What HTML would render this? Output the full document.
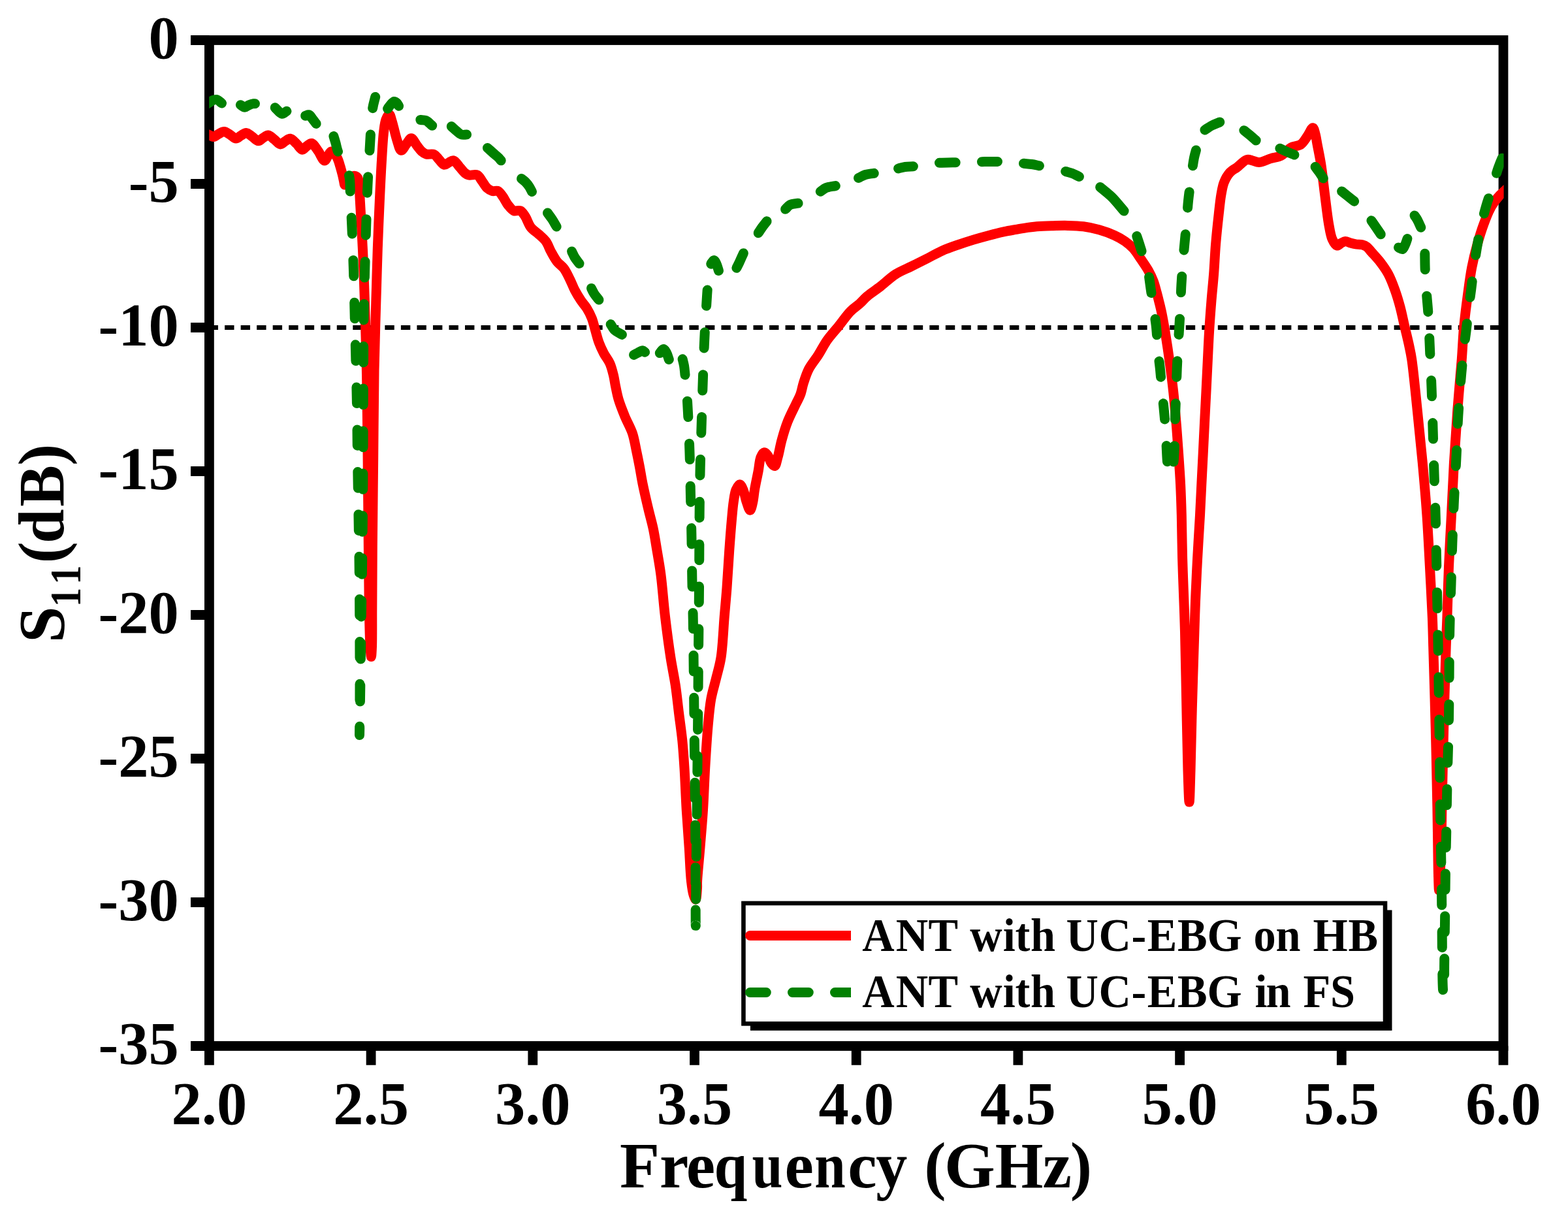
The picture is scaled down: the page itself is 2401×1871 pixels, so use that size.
<!DOCTYPE html>
<html><head><meta charset="utf-8"><title>S11 plot</title>
<style>html,body{margin:0;padding:0;background:#fff;}svg{display:block;}</style></head><body>
<svg xmlns="http://www.w3.org/2000/svg" width="2401" height="1871" viewBox="0 0 2401 1871">
<defs><clipPath id="pc"><rect x="320.2" y="0" width="1982.4" height="1871"/></clipPath><clipPath id="lc"><rect x="1140" y="1380" width="163" height="200"/></clipPath></defs>
<rect x="0" y="0" width="2401" height="1871" fill="#fff"/>
<path d="M319.57,501.5 H2302" stroke="#000" stroke-width="7" stroke-dasharray="14.4 10.128" fill="none"/>
<rect x="320.4" y="61.5" width="1981.6" height="1540.0" fill="none" stroke="#000" stroke-width="14.8" stroke-linejoin="miter"/>
<path d="M292,61.5 H320.4 M292,281.5 H320.4 M292,501.5 H320.4 M292,721.5 H320.4 M292,941.5 H320.4 M292,1161.5 H320.4 M292,1381.5 H320.4 M292,1601.5 H320.4 M320.40,1601.5 V1630.8 M568.10,1601.5 V1630.8 M815.80,1601.5 V1630.8 M1063.50,1601.5 V1630.8 M1311.20,1601.5 V1630.8 M1558.90,1601.5 V1630.8 M1806.60,1601.5 V1630.8 M2054.30,1601.5 V1630.8 M2302.00,1601.5 V1630.8" stroke="#000" stroke-width="14.8" fill="none"/>
<g clip-path="url(#pc)"><path d="M314.00,204.00 C316.00,204.80 317.93,205.53 320.00,206.40 C322.25,207.35 324.62,209.61 327.00,209.50 C329.61,209.38 332.28,206.34 335.00,205.00 C337.68,203.68 340.44,201.40 343.20,201.50 C346.10,201.60 349.07,204.30 352.00,206.00 C355.11,207.81 358.33,212.04 361.30,212.10 C363.97,212.16 366.39,208.94 369.00,207.50 C371.59,206.07 374.20,203.40 376.90,203.50 C379.86,203.61 382.96,207.01 386.00,209.00 C389.20,211.09 392.59,215.74 395.60,215.80 C398.21,215.85 400.47,212.46 403.00,211.00 C405.50,209.56 408.07,206.92 410.70,207.10 C413.71,207.30 416.94,211.23 420.00,213.50 C423.14,215.83 426.29,220.74 429.30,220.90 C431.94,221.04 434.42,217.46 437.00,216.00 C439.46,214.61 441.86,212.03 444.40,212.30 C447.49,212.63 450.93,217.22 454.00,220.00 C457.14,222.84 460.12,229.04 463.00,229.20 C465.41,229.34 467.59,225.16 470.00,223.50 C472.30,221.92 474.71,218.99 477.10,219.40 C480.36,219.96 483.81,226.78 487.00,231.00 C490.47,235.59 494.21,245.96 497.00,246.00 C498.93,246.03 500.33,241.33 502.00,239.00 C503.67,236.67 505.14,232.39 507.00,232.00 C508.53,231.68 510.49,233.52 512.00,235.00 C513.92,236.89 515.57,239.97 517.00,243.00 C518.65,246.51 519.77,250.90 521.00,255.00 C522.27,259.23 523.53,264.05 524.50,268.00 C525.30,271.27 525.86,274.31 526.50,277.00 C527.02,279.21 527.15,282.85 528.00,283.00 C528.92,283.16 530.54,278.96 532.00,277.00 C533.52,274.96 534.94,272.25 537.00,271.00 C538.97,269.81 542.09,269.00 544.00,269.50 C545.65,269.93 547.02,271.25 548.00,273.00 C549.48,275.65 549.48,280.36 550.00,285.00 C550.71,291.31 550.75,297.75 551.30,307.50 C552.32,325.59 554.40,359.20 555.60,385.00 C556.80,410.70 557.60,434.28 558.50,462.00 C559.56,494.51 560.67,532.10 561.40,568.00 C562.15,605.06 562.45,640.36 562.90,681.00 C563.43,728.59 563.86,790.36 564.30,836.00 C564.65,872.10 564.74,904.94 565.30,933.00 C565.73,954.51 566.22,976.98 567.00,990.00 C567.41,996.80 567.98,1005.50 568.40,1005.50 C568.82,1005.50 569.24,996.80 569.50,990.00 C570.00,976.98 569.69,954.51 569.80,933.00 C569.95,904.94 570.03,871.06 570.30,836.00 C570.62,794.49 571.25,745.00 571.70,700.00 C572.15,655.67 572.33,605.82 573.00,568.00 C573.50,539.49 574.26,516.29 574.90,493.00 C575.46,472.70 576.03,454.92 576.60,436.00 C577.16,417.25 577.59,399.84 578.30,380.00 C579.11,357.50 580.24,331.00 581.30,308.00 C582.28,286.82 583.25,265.78 584.40,247.00 C585.38,230.86 586.13,213.79 587.60,202.00 C588.56,194.29 589.13,187.85 591.00,183.00 C592.31,179.61 594.54,174.87 596.00,175.00 C597.56,175.14 598.88,181.63 600.00,185.00 C601.10,188.30 601.64,191.07 602.70,195.00 C604.21,200.62 606.09,209.28 608.20,215.50 C610.03,220.90 611.77,229.92 614.30,230.30 C616.49,230.63 619.43,224.09 622.00,221.00 C624.56,217.92 627.07,211.76 629.70,211.80 C632.56,211.84 635.66,219.49 638.50,223.00 C641.08,226.18 643.37,229.75 646.00,232.00 C648.15,233.83 650.02,235.20 652.70,236.00 C656.04,237.00 661.52,235.02 664.80,236.50 C667.84,237.87 669.51,241.45 672.00,244.00 C674.64,246.71 677.42,251.82 680.20,252.30 C682.44,252.68 684.66,250.06 687.00,249.00 C689.43,247.89 692.03,245.28 694.50,245.80 C697.72,246.48 700.99,252.69 704.00,256.00 C706.80,259.08 709.39,262.94 712.00,265.00 C713.90,266.50 715.25,267.41 717.60,268.00 C720.99,268.85 727.35,266.34 730.80,268.00 C734.03,269.55 735.57,273.82 738.00,277.00 C740.64,280.45 743.04,285.34 746.00,288.00 C748.41,290.17 751.02,291.75 753.80,292.50 C756.55,293.24 760.02,291.33 762.60,292.50 C765.52,293.83 767.61,297.76 770.00,301.00 C772.78,304.78 775.02,310.25 778.00,314.00 C780.68,317.37 783.47,321.33 786.80,322.70 C789.78,323.92 793.88,321.43 796.70,322.70 C799.67,324.05 801.64,327.56 804.00,331.00 C807.13,335.57 809.22,343.51 813.00,348.30 C816.45,352.68 821.40,355.36 825.30,359.00 C829.05,362.50 833.01,365.54 836.00,369.70 C839.18,374.12 840.84,379.95 843.60,385.00 C846.43,390.16 849.31,395.84 852.80,400.30 C856.01,404.41 860.33,406.77 863.50,411.00 C867.07,415.76 869.88,422.15 872.70,427.80 C875.47,433.35 877.47,439.21 880.30,444.60 C883.08,449.90 886.32,455.16 889.50,459.90 C892.44,464.27 895.86,467.67 898.60,472.10 C901.50,476.80 904.17,481.97 906.30,487.40 C908.55,493.13 909.82,499.59 911.60,505.70 C913.39,511.83 914.80,518.18 917.00,524.10 C919.15,529.91 921.77,535.51 924.60,540.90 C927.38,546.20 931.35,550.71 933.80,556.20 C936.33,561.88 937.95,568.61 939.40,574.50 C940.71,579.84 941.15,584.41 942.30,590.00 C943.67,596.64 944.98,604.23 947.20,611.70 C949.67,620.01 953.30,628.95 956.80,637.50 C960.36,646.18 965.46,654.63 968.40,663.40 C971.23,671.87 972.45,680.58 974.30,689.20 C976.15,697.81 977.88,706.56 979.50,715.10 C981.08,723.42 982.05,730.60 983.90,739.80 C986.27,751.56 989.98,767.44 992.90,779.80 C995.43,790.53 998.19,799.77 1000.30,809.80 C1002.39,819.74 1003.71,829.00 1005.50,839.70 C1007.56,852.06 1009.95,864.79 1011.90,879.70 C1014.35,898.44 1015.90,922.20 1018.40,943.40 C1020.90,964.60 1023.97,987.90 1026.90,1006.90 C1029.30,1022.45 1032.20,1035.07 1034.30,1049.20 C1036.39,1063.27 1037.75,1077.40 1039.50,1091.50 C1041.25,1105.60 1043.38,1119.69 1044.80,1133.80 C1046.21,1147.86 1047.02,1160.49 1048.00,1176.00 C1049.20,1195.01 1049.97,1218.81 1051.20,1239.50 C1052.38,1259.30 1053.95,1278.80 1055.20,1297.60 C1056.38,1315.33 1056.95,1335.97 1058.50,1349.30 C1059.49,1357.78 1060.43,1365.00 1062.00,1370.00 C1062.95,1373.03 1064.44,1377.13 1065.30,1377.00 C1066.57,1376.80 1067.15,1365.02 1067.50,1360.00 C1067.77,1356.03 1067.37,1354.20 1067.60,1349.30 C1068.11,1338.52 1070.56,1315.30 1072.00,1297.60 C1073.52,1278.92 1075.24,1259.71 1076.50,1240.00 C1077.83,1219.24 1078.45,1197.28 1079.70,1176.00 C1080.95,1154.81 1082.28,1131.59 1084.00,1112.60 C1085.41,1097.06 1086.47,1083.32 1088.80,1070.30 C1090.84,1058.90 1094.06,1049.17 1096.60,1038.60 C1099.13,1028.04 1102.04,1019.37 1104.00,1006.90 C1106.75,989.46 1107.68,962.56 1109.30,943.40 C1110.64,927.56 1111.84,915.44 1113.00,900.00 C1114.33,882.37 1115.40,861.31 1116.70,843.30 C1117.88,826.89 1119.16,809.97 1120.40,796.30 C1121.36,785.70 1122.02,776.43 1123.30,768.10 C1124.33,761.37 1125.00,754.72 1127.00,750.00 C1128.48,746.52 1130.86,741.67 1132.70,741.70 C1134.52,741.73 1136.47,746.56 1138.00,750.00 C1140.11,754.73 1141.09,762.52 1143.00,768.00 C1144.68,772.80 1146.96,781.25 1148.60,781.20 C1150.09,781.15 1151.42,774.36 1152.50,770.00 C1153.93,764.21 1154.31,756.72 1155.60,749.30 C1157.11,740.59 1159.55,729.74 1161.20,721.00 C1162.62,713.49 1162.85,705.00 1165.00,700.00 C1166.39,696.76 1168.39,692.99 1170.30,692.80 C1172.08,692.62 1174.35,695.74 1176.00,698.00 C1178.06,700.83 1178.96,706.29 1181.00,709.00 C1182.55,711.05 1184.81,713.91 1186.30,713.50 C1188.44,712.92 1189.48,705.28 1191.00,700.00 C1193.08,692.79 1194.59,682.79 1197.00,674.00 C1199.54,664.74 1202.36,655.08 1206.00,645.80 C1209.73,636.28 1215.58,625.27 1219.20,617.60 C1221.70,612.31 1223.79,609.10 1225.60,604.20 C1227.64,598.68 1228.48,592.23 1230.50,586.00 C1232.71,579.20 1234.95,571.84 1238.50,565.00 C1242.31,557.65 1248.35,550.81 1253.00,543.50 C1257.68,536.15 1261.38,528.28 1266.50,521.00 C1271.83,513.43 1278.57,506.35 1284.50,499.00 C1290.40,491.69 1296.13,483.04 1302.00,477.00 C1306.84,472.02 1312.11,468.79 1316.60,464.70 C1320.71,460.96 1323.53,457.31 1328.00,453.50 C1333.52,448.79 1340.80,444.24 1347.60,439.00 C1355.20,433.14 1363.18,425.17 1371.40,419.90 C1379.08,414.98 1387.27,411.97 1395.20,408.00 C1403.13,404.03 1411.07,400.12 1419.00,396.10 C1426.97,392.06 1434.84,387.37 1442.90,383.80 C1450.74,380.33 1458.74,377.69 1466.70,374.90 C1474.60,372.13 1482.54,369.52 1490.50,367.10 C1498.41,364.69 1506.35,362.49 1514.30,360.40 C1522.21,358.32 1530.71,356.16 1538.10,354.60 C1544.47,353.26 1550.63,352.35 1556.00,351.40 C1560.40,350.62 1563.50,349.98 1568.00,349.30 C1573.73,348.43 1580.74,347.40 1587.60,346.80 C1595.14,346.15 1603.46,345.93 1611.40,345.70 C1619.33,345.47 1627.27,345.22 1635.20,345.40 C1643.14,345.58 1651.10,345.75 1659.00,346.80 C1667.00,347.87 1675.04,349.56 1682.90,351.80 C1690.87,354.07 1699.46,357.17 1706.50,360.40 C1712.59,363.19 1717.98,366.14 1722.90,369.60 C1727.48,372.82 1731.33,376.04 1735.20,380.30 C1739.63,385.16 1743.68,391.87 1747.60,397.60 C1751.36,403.10 1755.18,408.42 1758.30,414.00 C1761.31,419.39 1763.97,424.92 1766.10,430.50 C1768.17,435.92 1769.48,441.49 1771.00,447.00 C1772.51,452.46 1773.87,457.92 1775.20,463.40 C1776.53,468.88 1777.73,473.70 1779.00,479.90 C1780.62,487.80 1782.19,496.72 1783.90,507.00 C1786.14,520.51 1788.85,538.33 1791.00,554.00 C1793.15,569.63 1795.12,585.24 1796.80,600.90 C1798.48,616.54 1799.80,632.23 1801.10,647.90 C1802.40,663.56 1803.52,679.24 1804.60,694.90 C1805.68,710.54 1806.82,726.15 1807.60,741.80 C1808.38,757.45 1808.83,771.79 1809.30,788.80 C1809.86,808.98 1810.00,832.99 1810.60,855.00 C1811.20,876.89 1812.21,900.47 1812.90,920.50 C1813.49,937.46 1813.98,948.30 1814.50,967.50 C1815.33,997.85 1816.11,1047.91 1816.90,1085.00 C1817.61,1118.35 1818.13,1153.69 1819.00,1180.00 C1819.62,1198.71 1820.43,1228.00 1821.10,1228.00 C1821.77,1228.00 1822.40,1198.71 1823.00,1180.00 C1823.84,1153.69 1824.39,1118.35 1825.30,1085.00 C1826.32,1047.91 1827.92,997.85 1828.90,967.50 C1829.52,948.31 1829.81,937.46 1830.50,920.50 C1831.31,900.47 1832.44,876.89 1833.60,855.00 C1834.77,832.99 1836.41,808.98 1837.50,788.80 C1838.42,771.80 1839.02,757.46 1839.80,741.80 C1840.58,726.16 1841.42,710.54 1842.20,694.90 C1842.98,679.24 1843.72,663.57 1844.50,647.90 C1845.28,632.23 1846.12,616.56 1846.90,600.90 C1847.68,585.26 1848.42,569.64 1849.20,554.00 C1849.98,538.34 1850.63,522.66 1851.60,507.00 C1852.57,491.33 1853.78,475.06 1855.00,460.00 C1856.13,446.05 1857.53,433.57 1858.60,419.70 C1859.74,404.93 1860.34,389.16 1861.60,373.90 C1862.87,358.60 1864.66,341.73 1866.20,328.00 C1867.46,316.79 1868.42,306.34 1870.00,297.50 C1871.24,290.59 1872.00,284.86 1874.30,279.20 C1876.54,273.68 1879.85,267.86 1883.50,263.90 C1886.64,260.49 1890.35,259.07 1894.20,256.20 C1898.85,252.74 1904.82,245.63 1909.40,244.50 C1912.49,243.74 1915.05,245.37 1918.00,246.00 C1921.17,246.68 1924.05,248.62 1927.80,248.50 C1932.97,248.34 1940.25,244.33 1946.10,242.60 C1951.41,241.03 1957.19,240.56 1961.40,238.50 C1964.87,236.80 1967.35,234.18 1970.00,232.00 C1972.42,230.01 1973.79,227.68 1976.70,226.00 C1980.59,223.76 1987.73,224.00 1992.00,221.00 C1996.42,217.89 1999.43,211.82 2002.60,207.40 C2005.46,203.41 2008.33,195.50 2010.30,195.70 C2011.96,195.87 2012.95,201.42 2014.00,205.00 C2015.34,209.58 2015.92,214.88 2017.10,221.10 C2018.72,229.67 2021.04,240.45 2022.80,251.70 C2024.94,265.40 2026.62,282.24 2028.60,297.50 C2030.58,312.77 2032.41,330.70 2034.70,343.30 C2036.33,352.29 2037.36,360.36 2040.00,366.20 C2041.89,370.38 2044.38,375.43 2047.00,376.00 C2049.14,376.47 2051.72,373.12 2054.00,372.00 C2056.04,370.99 2057.84,369.60 2060.00,369.50 C2062.46,369.39 2065.32,371.28 2068.00,372.00 C2070.65,372.71 2073.17,373.34 2076.00,373.80 C2079.13,374.31 2083.02,373.99 2086.00,374.80 C2088.61,375.50 2090.82,376.40 2093.00,378.00 C2095.54,379.87 2097.28,382.73 2100.00,385.80 C2103.86,390.16 2109.61,396.09 2113.90,401.70 C2118.25,407.38 2122.36,413.08 2125.90,419.70 C2129.78,426.96 2132.93,435.47 2135.90,443.70 C2138.94,452.12 2141.48,460.69 2143.90,469.70 C2146.47,479.27 2148.49,489.63 2150.80,499.60 C2153.12,509.59 2155.88,520.54 2157.80,529.60 C2159.38,537.04 2160.34,540.94 2161.70,550.00 C2164.37,567.76 2167.63,602.86 2170.40,629.30 C2173.17,655.73 2175.88,682.16 2178.30,708.60 C2180.72,735.02 2183.05,761.45 2184.90,787.90 C2186.75,814.32 2187.98,840.76 2189.40,867.20 C2190.82,893.63 2192.50,924.00 2193.40,946.50 C2194.07,963.16 2194.17,971.81 2194.70,990.00 C2195.59,1020.63 2197.17,1072.20 2198.20,1113.30 C2199.23,1154.40 2200.30,1203.97 2200.90,1236.60 C2201.30,1258.07 2201.43,1272.49 2201.70,1290.00 C2201.96,1306.94 2202.10,1326.53 2202.50,1340.00 C2202.77,1349.14 2203.08,1363.00 2203.50,1363.00 C2203.92,1363.00 2204.52,1349.14 2205.00,1340.00 C2205.71,1326.53 2206.52,1306.94 2207.00,1290.00 C2207.50,1272.50 2207.48,1258.07 2207.90,1236.60 C2208.55,1203.97 2209.65,1154.40 2210.70,1113.30 C2211.75,1072.20 2213.17,1020.63 2214.20,990.00 C2214.81,971.80 2215.30,963.16 2215.90,946.50 C2216.71,924.01 2217.40,893.63 2218.50,867.20 C2219.60,840.76 2221.18,814.33 2222.50,787.90 C2223.82,761.47 2224.87,735.03 2226.40,708.60 C2227.93,682.16 2229.72,655.73 2231.70,629.30 C2233.68,602.86 2236.53,573.46 2238.30,550.00 C2239.71,531.31 2240.13,516.34 2241.70,499.60 C2243.27,482.90 2245.58,465.40 2247.70,449.70 C2249.60,435.62 2251.25,422.43 2253.70,409.70 C2255.98,397.88 2258.66,386.88 2261.70,375.80 C2264.68,364.93 2267.92,354.01 2271.70,343.80 C2275.30,334.08 2279.21,323.70 2283.70,315.90 C2287.34,309.58 2291.93,304.00 2295.60,299.90 C2298.22,296.98 2301.09,294.84 2303.00,293.00 C2304.23,291.81 2305.00,291.00 2306.00,290.00" fill="none" stroke="#ff0000" stroke-width="15" stroke-linejoin="round" stroke-linecap="round"/></g>
<g clip-path="url(#pc)" fill="none" stroke="#008000" stroke-width="15" stroke-linejoin="round" stroke-linecap="round"><path d="M314.00,161.00 C316.00,159.83 318.02,158.74 320.00,157.50 C322.02,156.24 323.91,154.33 326.00,153.50 C327.92,152.74 329.99,152.02 332.00,152.50 C334.49,153.09 337.00,156.17 339.50,158.00"/><path d="M368.40,160.70 C370.57,161.90 372.76,164.29 374.90,164.30 C376.96,164.31 378.81,161.92 381.00,161.00 C383.33,160.03 386.78,158.96 388.50,158.70 C389.37,158.57 389.83,158.70 390.50,158.70"/><path d="M421.20,164.80 C424.73,167.97 428.50,173.94 431.80,174.30 C434.30,174.57 436.53,171.63 438.90,170.30"/><path d="M467.60,177.30 C469.43,176.80 471.42,175.29 473.10,175.80 C475.12,176.41 476.71,179.81 478.50,182.00 C480.41,184.33 482.30,186.93 484.20,189.40"/><path d="M510.90,208.60 C511.93,212.07 513.01,215.42 514.00,219.00 C515.05,222.78 515.46,226.39 517.00,230.70 C519.05,236.42 523.05,243.63 526.00,250.00 C528.88,256.23 532.69,261.32 534.50,268.50 C536.75,277.44 535.85,288.62 536.50,300.00 C537.26,313.44 537.98,327.91 538.70,344.00 C539.58,363.56 540.58,387.25 541.30,409.00 C542.02,430.91 542.45,453.08 543.00,475.00 C543.55,496.75 544.05,517.21 544.60,540.00 C545.21,565.28 546.02,593.33 546.50,620.00 C546.98,646.67 547.10,672.55 547.50,700.00 C547.92,729.12 548.54,760.88 549.00,790.00 C549.43,817.45 549.90,842.55 550.20,870.00 C550.52,899.12 550.67,930.88 550.80,960.00 C550.93,987.45 551.01,1015.25 551.00,1040.00 C550.99,1061.44 550.92,1084.21 550.80,1100.00 C550.72,1110.29 550.47,1125.50 550.50,1125.50 C550.53,1125.50 550.82,1109.92 551.00,1100.00 C551.25,1086.11 551.52,1069.10 551.80,1050.00 C552.18,1024.38 552.55,990.00 553.00,960.00 C553.45,930.00 554.08,900.00 554.50,870.00 C554.92,840.00 555.25,809.12 555.50,780.00 C555.74,752.55 555.87,728.15 556.00,700.00 C556.15,668.52 556.18,629.10 556.30,600.00 C556.39,577.46 556.47,560.16 556.60,540.00 C556.73,519.50 556.76,498.91 557.10,478.00 C557.45,456.59 558.12,434.67 558.70,413.00 C559.28,391.33 559.89,369.75 560.60,348.00 C561.32,326.08 562.03,302.47 563.00,282.00 C563.84,264.17 564.75,249.80 565.90,232.00 C567.22,211.57 568.36,181.15 570.60,166.20 C571.78,158.33 573.33,154.33 574.70,148.40" stroke-dasharray="24.5 40.4"/><path d="M593.60,166.40 C595.07,164.43 596.36,162.33 598.00,160.50 C599.66,158.66 601.73,155.64 603.50,155.40 C604.87,155.22 606.36,156.46 607.50,157.50 C608.78,158.67 609.57,160.70 610.60,162.30"/><path d="M643.80,183.50 C646.53,183.83 649.30,183.37 652.00,184.50 C655.32,185.89 658.53,189.70 661.80,192.30"/><path d="M691.30,193.60 C693.87,195.90 696.41,198.38 699.00,200.50 C701.45,202.50 703.71,205.11 706.40,206.00 C708.94,206.84 711.87,206.00 714.60,206.00"/><path d="M746.50,226.50 C749.67,229.33 753.06,232.43 756.00,235.00 C758.50,237.19 761.02,239.04 763.00,241.00 C764.65,242.63 765.80,244.20 767.20,245.80"/><path d="M798.50,273.50 C800.67,275.33 803.02,276.94 805.00,279.00 C807.03,281.10 808.90,283.55 810.50,286.00 C812.06,288.39 813.17,291.00 814.50,293.50"/><path d="M838.50,326.00 C840.67,329.00 842.85,331.73 845.00,335.00 C847.42,338.67 849.80,343.00 852.20,347.00"/><path d="M875.50,384.90 C877.00,387.93 878.18,391.01 880.00,394.00 C881.96,397.22 884.67,400.33 887.00,403.50"/><path d="M905.50,441.50 C907.00,444.33 908.19,447.20 910.00,450.00 C911.97,453.04 914.67,456.00 917.00,459.00"/><path d="M935.20,496.60 C937.17,499.53 938.47,502.87 941.10,505.40 C944.04,508.24 948.63,510.07 952.40,512.40"/><path d="M970.50,543.40 C972.67,542.27 974.78,541.09 977.00,540.00 C979.28,538.89 982.09,536.65 984.00,536.80 C985.44,536.91 986.40,538.40 987.60,539.20"/><path d="M1010.30,540.60 C1012.17,538.53 1014.15,534.36 1015.90,534.40 C1017.53,534.44 1019.19,537.71 1020.50,540.00 C1022.11,542.83 1023.03,546.93 1024.30,550.40"/><path d="M1044.80,548.40 C1045.70,552.27 1046.81,555.95 1047.50,560.00 C1048.24,564.36 1048.44,567.91 1049.00,573.70 C1049.97,583.67 1051.47,598.81 1052.50,614.50 C1053.89,635.81 1055.06,665.30 1055.90,690.00 C1056.71,713.77 1056.98,737.57 1057.50,760.00 C1057.98,780.77 1058.51,799.23 1058.90,820.00 C1059.32,842.43 1059.48,867.57 1059.90,890.00 C1060.29,910.77 1060.90,927.46 1061.30,950.00 C1061.81,979.10 1062.13,1016.67 1062.50,1050.00 C1062.87,1083.33 1063.16,1117.54 1063.50,1150.00 C1063.83,1180.79 1064.25,1210.00 1064.50,1240.00 C1064.75,1270.00 1064.87,1300.23 1065.00,1330.00 C1065.13,1359.32 1065.13,1417.30 1065.30,1417.30 C1065.47,1417.30 1065.69,1359.32 1066.00,1330.00 C1066.32,1300.23 1066.80,1273.30 1067.20,1240.00 C1067.70,1198.47 1068.30,1142.75 1068.70,1100.00 C1069.04,1063.87 1069.20,1033.33 1069.50,1000.00 C1069.80,966.67 1070.28,928.24 1070.50,900.00 C1070.66,879.25 1070.69,864.90 1070.80,846.00 C1070.92,825.10 1070.96,801.83 1071.20,780.00 C1071.43,758.50 1071.71,737.50 1072.20,716.00 C1072.70,694.17 1073.53,671.92 1074.20,650.00 C1074.86,628.25 1075.45,606.67 1076.20,585.00 C1076.95,563.33 1077.72,540.56 1078.70,520.00 C1079.58,501.43 1080.83,481.32 1081.70,467.00 C1082.29,457.24 1082.69,450.82 1083.30,442.40 C1083.95,433.51 1084.10,422.16 1085.50,415.00 C1086.44,410.22 1087.97,407.20 1089.20,403.30" stroke-dasharray="24.5 40.4" stroke-dashoffset="-1.5"/><path d="M1089.20,403.30 C1090.57,401.70 1092.01,398.43 1093.30,398.50 C1094.62,398.58 1095.91,401.78 1097.00,404.00 C1098.41,406.86 1099.33,411.00 1100.50,414.50"/><path d="M1127.90,410.30 C1129.27,407.53 1130.51,405.16 1132.00,402.00 C1133.93,397.89 1136.27,392.47 1138.40,387.70"/><path d="M1161.20,356.70 C1163.13,353.80 1164.91,350.90 1167.00,348.00 C1169.20,344.94 1171.73,341.87 1174.10,338.80"/><path d="M1202.60,320.30 C1205.07,318.03 1206.97,315.02 1210.00,313.50 C1213.35,311.82 1218.07,311.97 1222.10,311.20"/><path d="M1256.30,293.20 C1259.20,291.30 1261.59,288.90 1265.00,287.50 C1269.04,285.84 1274.53,285.57 1279.30,284.60"/><path d="M1314.50,272.50 C1318.00,270.83 1321.20,268.69 1325.00,267.50 C1329.09,266.22 1333.87,266.03 1338.30,265.30"/><path d="M1375.60,258.00 C1379.07,257.17 1382.36,256.04 1386.00,255.50 C1389.93,254.92 1394.27,255.03 1398.40,254.80"/><path d="M1438.50,249.30 C1442.67,249.20 1446.86,249.08 1451.00,249.00 C1455.09,248.92 1459.13,248.87 1463.20,248.80"/><path d="M1503.50,247.70 C1507.50,247.60 1511.50,247.43 1515.50,247.40 C1519.50,247.37 1523.50,247.47 1527.50,247.50"/><path d="M1567.50,250.30 C1571.67,250.70 1575.94,250.90 1580.00,251.50 C1583.90,252.08 1587.60,253.03 1591.40,253.80"/><path d="M1631.70,262.50 C1635.13,263.50 1638.61,264.20 1642.00,265.50 C1645.51,266.85 1648.93,268.83 1652.40,270.50"/><path d="M1684.60,286.50 C1690.47,291.47 1696.44,295.73 1702.20,301.40 C1708.63,307.73 1714.80,315.80 1721.10,323.00"/><path d="M1740.70,361.50 C1741.97,365.33 1743.27,369.16 1744.50,373.00 C1745.73,376.83 1746.90,380.67 1748.10,384.50"/><path d="M1759.60,424.30 C1760.73,432.40 1761.81,440.76 1763.00,448.60 C1764.12,455.97 1765.48,463.07 1766.50,470.00 C1767.46,476.51 1768.28,483.39 1769.00,489.00 C1769.57,493.46 1769.98,495.85 1770.50,501.00 C1771.44,510.27 1772.39,528.45 1773.50,540.00 C1774.39,549.27 1775.48,555.96 1776.40,565.00 C1777.49,575.68 1778.44,588.79 1779.50,600.00 C1780.48,610.39 1781.58,620.00 1782.50,630.00 C1783.42,640.00 1784.31,649.61 1785.00,660.00 C1785.74,671.21 1786.21,686.27 1786.70,695.00 C1786.99,700.22 1787.13,703.22 1787.50,707.50 C1787.89,712.04 1787.81,718.22 1789.00,721.50 C1789.74,723.53 1791.00,726.00 1792.00,726.00 C1793.00,726.00 1794.22,723.53 1795.00,721.50 C1796.25,718.22 1796.51,712.04 1797.00,707.50 C1797.46,703.22 1797.63,700.22 1797.90,695.00 C1798.35,686.28 1798.69,671.12 1799.00,660.00 C1799.28,649.88 1799.38,640.83 1799.70,631.00 C1800.04,620.84 1800.59,610.65 1801.00,600.00 C1801.43,588.69 1801.70,576.66 1802.20,565.00 C1802.70,553.33 1803.38,541.22 1804.00,530.00 C1804.58,519.61 1805.22,510.00 1805.80,500.00 C1806.38,490.00 1806.98,480.39 1807.50,470.00 C1808.06,458.78 1808.33,446.66 1809.00,435.00 C1809.67,423.33 1810.62,411.05 1811.50,400.00 C1812.29,390.04 1813.11,381.32 1814.00,371.60 C1814.94,361.35 1816.09,350.60 1817.00,340.00 C1817.92,329.30 1818.45,318.04 1819.50,307.70 C1820.48,298.10 1821.66,289.96 1823.00,280.00 C1824.57,268.30 1826.50,251.42 1828.40,241.90 C1829.56,236.08 1830.64,232.78 1832.00,228.00 C1833.47,222.84 1835.33,217.33 1837.00,212.00" stroke-dasharray="24.5 40.4"/><path d="M1844.90,199.00 C1848.27,196.83 1851.35,194.44 1855.00,192.50 C1858.93,190.41 1863.53,188.83 1867.80,187.00"/><path d="M1904.90,199.70 C1907.93,202.13 1910.98,204.48 1914.00,207.00 C1917.08,209.58 1920.13,212.33 1923.20,215.00"/><path d="M1959.90,227.20 C1963.60,228.97 1967.29,230.84 1971.00,232.50 C1974.65,234.14 1978.33,235.57 1982.00,237.10"/><path d="M2014.10,255.50 C2016.07,258.17 2018.04,260.69 2020.00,263.50 C2022.10,266.51 2024.20,269.83 2026.30,273.00"/><path d="M2054.60,292.90 C2057.73,295.43 2060.84,297.97 2064.00,300.50 C2067.20,303.07 2070.47,305.63 2073.70,308.20"/><path d="M2099.90,337.80 C2102.27,341.20 2104.63,344.54 2107.00,348.00 C2109.43,351.54 2111.87,355.20 2114.30,358.80"/><path d="M2141.50,379.00 C2143.50,379.83 2145.87,382.03 2147.50,381.50 C2149.27,380.93 2150.32,377.44 2151.50,375.00 C2152.86,372.19 2153.83,368.67 2155.00,365.50"/><path d="M2166.00,330.00 C2167.33,332.00 2168.64,333.58 2170.00,336.00 C2171.87,339.32 2173.87,344.20 2175.80,348.30"/><path d="M2181.80,388.20 C2181.93,396.17 2181.86,403.22 2182.20,412.10 C2182.63,423.29 2183.66,438.37 2184.50,450.00 C2185.22,459.93 2186.13,467.49 2186.80,477.60 C2187.61,489.91 2188.26,506.89 2188.80,518.60 C2189.20,527.37 2189.40,532.35 2189.80,541.60 C2190.41,555.69 2191.40,576.18 2192.10,594.90 C2192.88,615.75 2193.54,639.19 2194.20,661.00 C2194.84,682.38 2195.34,703.13 2196.00,724.50 C2196.67,746.29 2197.61,768.71 2198.20,790.50 C2198.77,811.87 2199.07,832.62 2199.50,854.00 C2199.94,875.81 2200.37,898.07 2200.80,920.10 C2201.23,942.13 2201.71,964.36 2202.10,986.20 C2202.48,1007.65 2202.75,1026.35 2203.10,1050.00 C2203.54,1079.60 2204.11,1117.54 2204.50,1150.00 C2204.87,1180.79 2204.98,1210.00 2205.40,1240.00 C2205.82,1270.00 2206.55,1300.00 2207.00,1330.00 C2207.45,1360.00 2207.82,1393.03 2208.10,1420.00 C2208.33,1442.02 2208.31,1462.68 2208.60,1480.00 C2208.83,1493.23 2208.96,1507.16 2209.50,1515.00 C2209.77,1518.99 2210.17,1524.00 2210.50,1524.00 C2210.83,1524.00 2211.27,1518.99 2211.50,1515.00 C2211.95,1507.16 2211.48,1494.04 2211.60,1480.00 C2211.78,1458.77 2212.38,1425.78 2212.70,1400.00 C2213.00,1375.89 2213.14,1351.37 2213.50,1330.00 C2213.80,1311.93 2214.23,1298.62 2214.60,1280.00 C2215.07,1256.45 2215.40,1228.15 2216.00,1200.00 C2216.67,1168.52 2217.88,1135.99 2218.50,1100.00 C2219.23,1057.79 2219.03,999.95 2219.80,962.40 C2220.34,936.37 2221.23,918.11 2221.90,896.30 C2222.56,874.92 2223.06,854.17 2223.80,832.80 C2224.56,811.01 2225.38,788.70 2226.40,766.80 C2227.41,745.10 2228.83,723.60 2229.90,702.00 C2230.97,680.40 2231.49,658.90 2232.80,637.20 C2234.12,615.27 2236.07,590.52 2237.80,571.10 C2239.16,555.77 2240.64,541.72 2242.00,530.00 C2243.02,521.22 2244.00,515.30 2245.00,507.00 C2246.17,497.22 2247.22,485.64 2248.50,475.00 C2249.78,464.38 2251.36,453.75 2252.70,443.20 C2254.03,432.75 2255.06,422.51 2256.50,412.00 C2257.98,401.22 2259.70,389.89 2261.50,379.30 C2263.21,369.25 2264.79,360.10 2267.00,350.00 C2269.39,339.05 2272.47,326.52 2275.50,316.00 C2278.18,306.70 2281.04,299.26 2284.00,290.00 C2287.37,279.44 2291.18,265.48 2294.60,256.00 C2297.13,248.99 2299.37,243.78 2302.00,238.00 C2304.52,232.46 2307.33,227.33 2310.00,222.00" stroke-dasharray="24.5 40.4"/></g>
<g font-family="'Liberation Serif','Times New Roman',Times,serif" font-weight="bold" font-size="92.5" fill="#000"><text x="273.8" y="88.8" text-anchor="end">0</text><text x="273.8" y="308.8" text-anchor="end">-5</text><text x="273.8" y="528.8" text-anchor="end">-10</text><text x="273.8" y="748.8" text-anchor="end">-15</text><text x="273.8" y="968.8" text-anchor="end">-20</text><text x="273.8" y="1188.8" text-anchor="end">-25</text><text x="273.8" y="1408.8" text-anchor="end">-30</text><text x="273.8" y="1628.8" text-anchor="end">-35</text><text x="320.40" y="1720.5" text-anchor="middle">2.0</text><text x="568.10" y="1720.5" text-anchor="middle">2.5</text><text x="815.80" y="1720.5" text-anchor="middle">3.0</text><text x="1063.50" y="1720.5" text-anchor="middle">3.5</text><text x="1311.20" y="1720.5" text-anchor="middle">4.0</text><text x="1558.90" y="1720.5" text-anchor="middle">4.5</text><text x="1806.60" y="1720.5" text-anchor="middle">5.0</text><text x="2054.30" y="1720.5" text-anchor="middle">5.5</text><text x="2302.00" y="1720.5" text-anchor="middle">6.0</text></g>
<text font-family="'Liberation Serif','Times New Roman',Times,serif" font-weight="bold" font-size="100" fill="#000" y="1818" xml:space="preserve"><tspan x="949">F</tspan><tspan x="1010.08">r</tspan><tspan x="1050.66">e</tspan><tspan x="1093.5" textLength="50.8" lengthAdjust="spacingAndGlyphs">q</tspan><tspan x="1151.4" textLength="47.0" lengthAdjust="spacingAndGlyphs">u</tspan><tspan x="1201.57">e</tspan><tspan x="1247.2" textLength="47.5" lengthAdjust="spacingAndGlyphs">n</tspan><tspan x="1298.27">c</tspan><tspan x="1341.3" textLength="48.0" lengthAdjust="spacingAndGlyphs">y</tspan><tspan x="1390.66"> </tspan><tspan x="1415.26">(</tspan><tspan x="1445.95">G</tspan><tspan x="1523.7" textLength="73.7" lengthAdjust="spacingAndGlyphs">H</tspan><tspan x="1596.52">z</tspan><tspan x="1638.81">)</tspan></text>
<text transform="translate(97,984) rotate(-90)" font-family="'Liberation Serif','Times New Roman',Times,serif" font-weight="bold" font-size="100" fill="#000"><tspan x="0" y="0">S</tspan><tspan x="54.85" y="25.8" font-size="68" textLength="29.6" lengthAdjust="spacingAndGlyphs">1</tspan><tspan x="88.95" y="25.8" font-size="68" textLength="29.6" lengthAdjust="spacingAndGlyphs">1</tspan><tspan x="121.4" y="0">(</tspan><tspan x="152.2" y="0" textLength="52.3" lengthAdjust="spacingAndGlyphs">d</tspan><tspan x="208.3" y="0" textLength="63.6" lengthAdjust="spacingAndGlyphs">B</tspan><tspan x="271" y="0">)</tspan></text>
<rect x="1148.95" y="1393.45" width="982.55" height="184.4" fill="#000"/>
<rect x="1138.45" y="1382.95" width="982.55" height="184.4" fill="#fff" stroke="#000" stroke-width="6.6"/>
<g clip-path="url(#lc)" fill="none" stroke-width="15" stroke-linecap="round"><path d="M1148.5,1432.5 H1320" stroke="#ff0000"/><path d="M1148.5,1519.5 H1320" stroke="#008000" stroke-dasharray="24.8 40.2"/></g>
<g font-family="'Liberation Serif','Times New Roman',Times,serif" font-weight="bold" font-size="72" fill="#000" transform="translate(1320.3,0) scale(0.95,1) translate(-1320.3,0)"><text x="1320.30 1374.59 1426.91 1475.77 1493.88 1547.14 1566.93 1591.55 1632.12 1649.07 1701.69 1754.22 1779.77 1828.43 1876.25 1933.72 1951.09 1986.88 2028.51 2046.93 2103.77" y="1456">ANT with UC-EBG on HB</text><text x="1320.30 1374.59 1426.91 1475.77 1493.88 1547.14 1566.93 1591.55 1632.12 1649.07 1701.69 1754.22 1779.77 1828.43 1876.25 1933.72 1953.09 1971.09 2012.72 2030.93 2074.70" y="1542">ANT with UC-EBG in FS</text></g>
</svg></body></html>
